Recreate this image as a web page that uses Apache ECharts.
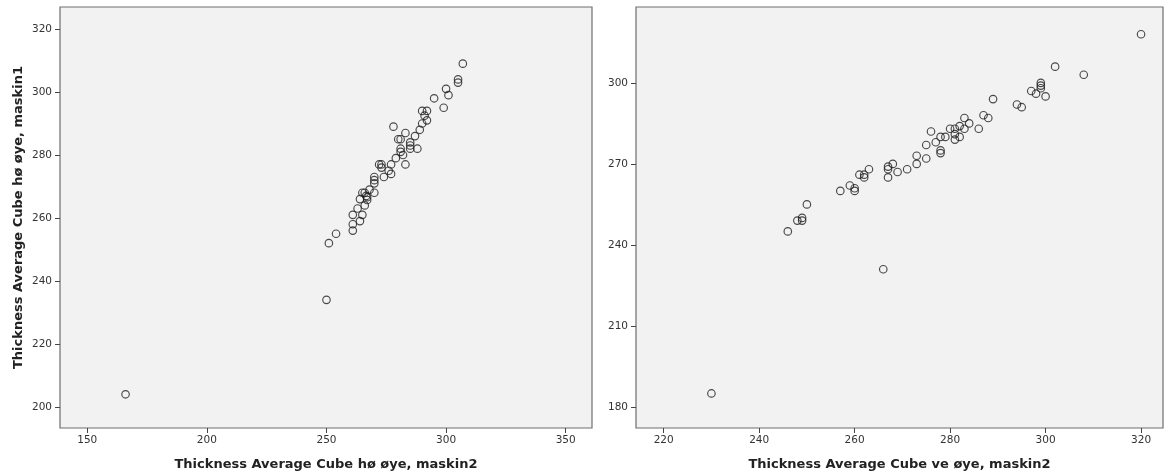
<!DOCTYPE html>
<html>
<head>
<meta charset="utf-8">
<script src="https://cdn.jsdelivr.net/npm/echarts@6/dist/echarts.min.js"></script>
<style>
html,body{margin:0;padding:0;background:#fff;}
#chart{width:1165px;height:474px;}
</style>
</head>
<body>
<div id="chart"></div>
<script>
// Left panel: hø øye, maskin2 (x) vs maskin1 (y)
const leftX = [307,305,305,300,301,295,299,290,292,291,292,290,289,278,283,287,280,281,285,285,288,285,281,281,282,279,283,277,272,273,273,276,277,274,270,270,270,270,268,265,266,266.6,267,264,267,266,263,261,265,264,261,261,254,251,250,166];
const leftY = [309,304,303,301,299,298,295,294,294,292.5,291,290,288,289,287,286,285,285,284,283,282,282,282,281,280,279,277,277,277,277,276,275,274,273,273,272,271,268,269,268,268,267,266.6,266,265.7,264,263,261,261,259,258,256,255,252,234,204];
// Right panel: ve øye, maskin2 (x) vs maskin1 (y)
const rightX = [230,266,246,248,249,249,250,257,259,260,260,261,262,262,263,267,267,268,267,269,271,273,273,275,275,276,277,278,278,278,279,280,281,281,281,282,282,283,283,284,286,287,288,289,294,295,297,298,299,299,299,300,302,308,320];
const rightY = [185,231,245,249,250,249,255,260,262,261,260,266,266,265,268,269,268,270,265,267,268,273,270,272,277,282,278,275,274,280,280,283,283,281,279,284,280,283,287,285,283,288,287,294,292,291,297,296,300,299,298,295,306,303,318];

const leftXTicks = [150,200,250,300,350];
const leftYTicks = [200,220,240,260,280,300,320];
const rightXTicks = [220,240,260,280,300,320];
const rightYTicks = [180,210,240,270,300];

const leftXTitle = 'Thickness Average Cube hø øye, maskin2';
const leftYTitle = 'Thickness Average Cube hø øye, maskin1';
const rightXTitle = 'Thickness Average Cube ve øye, maskin2';

function pairs(xs, ys){ return xs.map((x,i)=>[x, ys[i]]); }

const labelFont = {fontFamily:'DejaVu Sans', fontSize:10.5, color:'#333'};
const titleFont = {fontFamily:'DejaVu Sans', fontSize:13, fontWeight:'bold', color:'#222'};

function axis(gridIndex, min, max, ticks, name, nameGap, isY){
  return {
    type:'value', gridIndex, min, max, scale:true,
    name: name, nameLocation:'middle', nameGap: nameGap,
    nameTextStyle: titleFont,
    axisLine:{show:false},
    axisTick:{show:true, inside:false, length:5, customValues:ticks, lineStyle:{color:'#444', width:1}},
    axisLabel:Object.assign({show:true, margin:isY?8:7, customValues:ticks}, labelFont),
    splitLine:{show:false}
  };
}

const chart = echarts.init(document.getElementById('chart'), null, {renderer:'canvas'});
const markerStyle = {color:'rgba(0,0,0,0)', borderColor:'#1e1e1e', borderWidth:1.15};
chart.setOption({
  backgroundColor:'#ffffff',
  animation:false,
  grid:[
    {left:60, top:7, width:532, height:421, show:true, outerBoundsMode:'none', containLabel:false, backgroundColor:'#f2f2f2', borderColor:'#6e6e6e', borderWidth:1.2},
    {left:636, top:7, width:527, height:421, show:true, outerBoundsMode:'none', containLabel:false, backgroundColor:'#f2f2f2', borderColor:'#6e6e6e', borderWidth:1.2}
  ],
  xAxis:[
    axis(0, 138.6, 361, leftXTicks, leftXTitle, 30, false),
    axis(1, 214.2, 324.6, rightXTicks, rightXTitle, 30, false)
  ],
  yAxis:[
    axis(0, 193.3, 327.0, leftYTicks, leftYTitle, 35, true),
    axis(1, 172.2, 328.1, rightYTicks, '', 40, true)
  ],
  series:[
    {type:'scatter', xAxisIndex:0, yAxisIndex:0, data:pairs(leftX,leftY), symbol:'circle', symbolSize:7.5, itemStyle:markerStyle},
    {type:'scatter', xAxisIndex:1, yAxisIndex:1, data:pairs(rightX,rightY), symbol:'circle', symbolSize:7.5, itemStyle:markerStyle}
  ]
});
</script>
</body>
</html>
